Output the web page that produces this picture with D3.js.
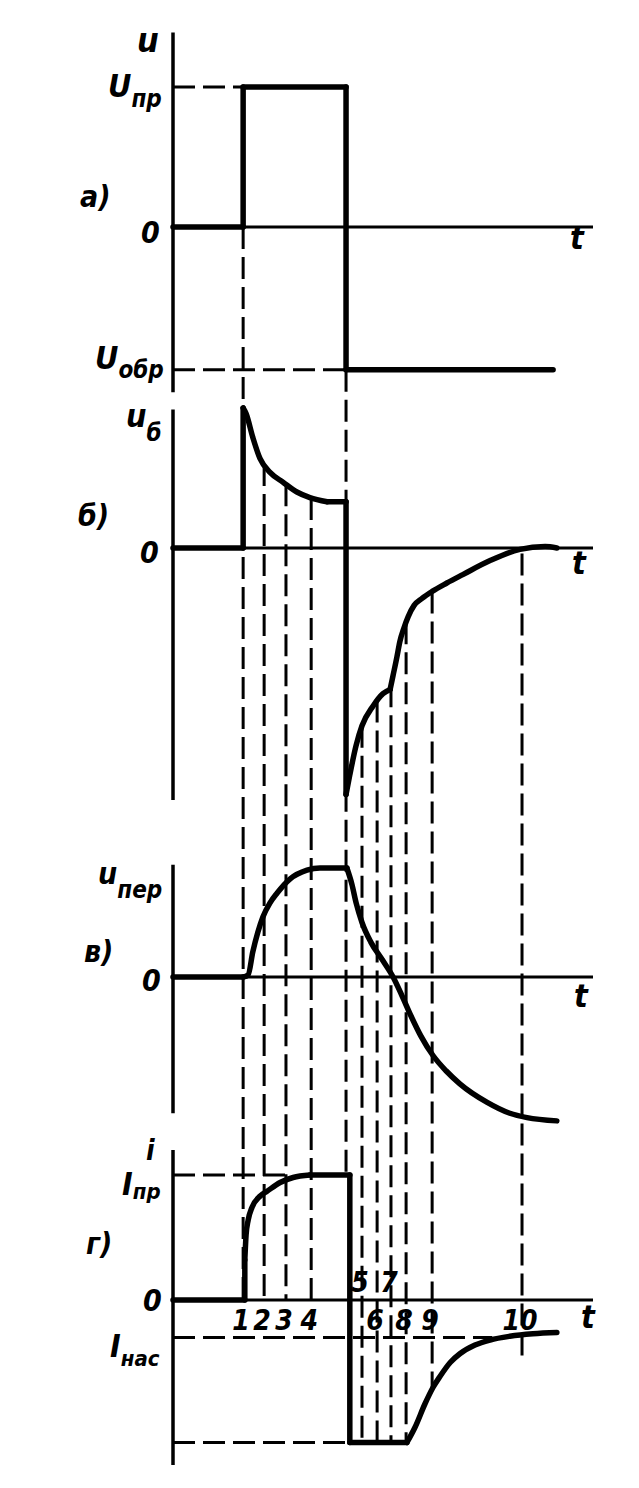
<!DOCTYPE html>
<html><head><meta charset="utf-8">
<script src="https://cdn.jsdelivr.net/npm/d3@7"></script>
<style>
html,body{margin:0;padding:0;background:#fff;}
svg text{font-family:"DejaVu Sans Condensed","DejaVu Sans",sans-serif;font-style:italic;font-weight:bold;fill:#000;}
</style></head>
<body><svg id="c" width="639" height="1488"></svg>
<script>
// ---- data (time in arbitrary units 0..100, values in units of each panel's reference level) ----
const tMarks      = [16.7, 21.7, 26.9, 32.9, 45.0, 48.6, 51.9, 55.5, 61.7, 83.1];
const tMarkLabels = ["1","2","3","4","5","6","7","8","9","10"];
const tFall = 41.2;
const tEnd = 100;

// a) applied voltage u
const uT = [0, 16.7, 16.7, 41.2, 41.2, 90.5];
const uV = [0, 0, 1, 1, -1.02, -1.02];

// б) base voltage u_б
const ubT = [0, 16.7, 16.7, 17.4, 19.0, 20.7, 23.1, 26.2, 29.5, 32.6, 36.7, 41.2, 41.2,
             42.1, 43.6, 45.0, 47.6, 50.0, 51.7, 52.4, 53.3, 54.0, 55.0, 56.0, 57.4, 59.3,
             61.7, 65.2, 69.0, 75.5, 82.6, 88.6, 91.4];
const ubV = [0, 0, 1.0, 0.96, 0.79, 0.64, 0.54, 0.47, 0.40, 0.36, 0.33, 0.33, -1.76,
             -1.62, -1.41, -1.27, -1.13, -1.04, -1.01, -0.91, -0.78, -0.67, -0.57, -0.49, -0.41, -0.36,
             -0.31, -0.25, -0.19, -0.09, -0.01, 0.01, 0.0];
const ubCorners = [36.7, 51.7];

// в) junction voltage u_пер
const upT = [0, 16.7, 17.9, 19.0, 20.2, 21.4, 23.1, 24.8, 27.9, 31.9, 35.0, 41.4, 42.6, 43.6,
             45.0, 47.1, 49.8, 52.4, 54.5, 56.7, 59.0, 61.9, 65.0, 68.3, 74.8, 80.2, 84.3, 91.4];
const upV = [0, 0, 0.02, 0.23, 0.41, 0.55, 0.68, 0.77, 0.90, 0.98, 1.0, 1.0, 0.85, 0.68,
             0.50, 0.32, 0.16, 0.0, -0.17, -0.36, -0.54, -0.72, -0.86, -0.98, -1.15, -1.25, -1.29, -1.32];
const upCorners = [16.7, 41.4];

// г) current i
const iT = [0, 17.1, 17.1, 17.4, 17.9, 18.8, 20.7, 22.4, 25.5, 28.6, 32.6, 42.1, 42.1,
            55.7, 57.6, 60.0, 61.9, 63.6, 66.0, 68.3, 71.9, 75.5, 80.2, 85.7, 91.4];
const iV = [0, 0, 0.32, 0.52, 0.64, 0.74, 0.83, 0.87, 0.94, 0.98, 1.0, 1.0, -1.14,
            -1.14, -1.02, -0.83, -0.70, -0.61, -0.50, -0.43, -0.36, -0.32, -0.29, -0.27, -0.26];
const iCorners = [32.6, 55.7];
const iSat = -0.30;      // I_нас level
const iBottom = -1.14;   // reverse current plateau

// vertical extents of each panel's ordinate axis
const axisA = [-1.18, 1.39];
const axisB = [-1.80, 0.99];
const axisC = [-1.25, 1.03];
const axisD = [-1.32, 1.20];

// guide lines: [panel, value] at top and bottom of each time marker
const markTop    = [["a",0],["b",0.60],["b",0.455],["b",0.358],["b",-1.27],["b",-1.09],["b",-0.98],["b",-0.53],["b",-0.31],["b",-0.04]];
const markBottom = [["d",0],["d",0],["d",0],["d",0],["d",-1.14],["d",-1.14],["d",-1.14],["d",-1.14],["d",-0.70],["d",-0.46]];
const markAbove  = ["5","7"];   // labels placed above the axis

// ---- drawing ----
const svg = d3.select("#c");
const x = d3.scaleLinear().domain([0, 100]).range([173, 593]);
const y = {
  a: d3.scaleLinear().domain([0, 1]).range([227, 87]),
  b: d3.scaleLinear().domain([0, 1]).range([548, 408]),
  c: d3.scaleLinear().domain([0, 1]).range([977, 868]),
  d: d3.scaleLinear().domain([0, 1]).range([1300, 1175])
};
const DASH = "22,8";

// dashed guides (drawn first, under curves)
const g = svg.append("g").attr("stroke","#000").attr("fill","none");
tMarks.forEach((t,i)=>{
  g.append("line").attr("x1",x(t)).attr("x2",x(t))
   .attr("y1",y[markTop[i][0]](markTop[i][1])).attr("y2",y[markBottom[i][0]](markBottom[i][1]))
   .attr("stroke-width",3).attr("stroke-dasharray",DASH);
});
g.append("line").attr("x1",x(tFall)).attr("x2",x(tFall))
 .attr("y1",y.a(-1.02)).attr("y2",y.d(1)).attr("stroke-width",3).attr("stroke-dasharray",DASH);

function hdash(panel, v, t0, t1){
  g.append("line").attr("x1",x(t0)).attr("x2",x(t1)).attr("y1",y[panel](v)).attr("y2",y[panel](v))
   .attr("stroke-width",3).attr("stroke-dasharray",DASH);
}
hdash("a", 1, 0, 16.7);
hdash("a", -1.02, 0, tFall);
hdash("d", 1, 0, 28);
hdash("d", iSat, 0, 76);
hdash("d", iBottom, 0, tFall);

// axes
const ax = svg.append("g").attr("stroke","#000").attr("fill","none");
[["a",axisA],["b",axisB],["c",axisC],["d",axisD]].forEach(([p,ext])=>{
  ax.append("line").attr("x1",x(0)).attr("x2",x(0)).attr("y1",y[p](ext[1])).attr("y2",y[p](ext[0])).attr("stroke-width",3.5);
  ax.append("line").attr("x1",x(0)).attr("x2",x(tEnd)).attr("y1",y[p](0)).attr("y2",y[p](0)).attr("stroke-width",3);
});

// curves: split into smooth pieces at vertical jumps and corners
const curves = svg.append("g").attr("stroke","#000").attr("fill","none")
  .attr("stroke-width",5.5).attr("stroke-linejoin","round").attr("stroke-linecap","round");
function drawSeries(p, T, V, corners){
  const pts = T.map((t,i)=>[t,V[i]]);
  let seg = [pts[0]];
  const pieces = [];
  for(let i=1;i<pts.length;i++){
    if(pts[i][0] === pts[i-1][0]){           // vertical jump
      if(seg.length>1) pieces.push(seg);
      pieces.push([pts[i-1], pts[i]]);
      seg = [pts[i]];
    } else {
      seg.push(pts[i]);
      if(corners.includes(pts[i][0]) && i < pts.length-1 && pts[i+1][0] !== pts[i][0]){
        pieces.push(seg); seg = [pts[i]];
      }
    }
  }
  if(seg.length>1) pieces.push(seg);
  pieces.forEach(pc=>{
    const line = d3.line().x(d=>x(d[0])).y(d=>y[p](d[1]))
      .curve(pc.length>2 ? d3.curveMonotoneX : d3.curveLinear);
    curves.append("path").attr("d", line(pc));
  });
}
drawSeries("a", uT, uV, []);
drawSeries("b", ubT, ubV, ubCorners);
drawSeries("c", upT, upV, upCorners);
drawSeries("d", iT, iV, iCorners);

// text
function label(xp, yp, main, sub, size, subSize, dy){
  const t = svg.append("text").attr("x",xp).attr("y",yp).attr("font-size",size);
  t.append("tspan").text(main);
  if(sub) t.append("tspan").attr("font-size",subSize).attr("dy",dy).text(sub);
  return t;
}
// panel a
label(137, 52, "u", null, 34);
label(108, 97, "U", "пр", 32, 24, 10);
label(80, 207, "а)", null, 30);
label(141, 243, "0", null, 30);
label(95, 369, "U", "обр", 32, 24, 9);
// panel б
label(126, 427, "u", "б", 32, 24, 14);
label(78, 526, "б)", null, 30);
label(140, 563, "0", null, 30);
// panel в
label(98, 884, "u", "пер", 30, 24, 14);
label(84, 962, "в)", null, 30);
label(142, 991, "0", null, 30);
// panel г
label(146, 1160, "i", null, 28);
label(122, 1195, "I", "пр", 32, 22, 4);
label(86, 1254, "г)", null, 30);
label(143, 1311, "0", null, 30);
label(110, 1357, "I", "нас", 32, 22, 9);
// time labels
[227, 548, 977, 1300].forEach((yy,i)=>{
  const xs = [570, 572, 574, 581][i];
  svg.append("text").attr("x",xs).attr("y",yy+([22,26,30,28][i])).attr("font-size",32).text("t");
});
tMarks.forEach((t,i)=>{
  const above = markAbove.includes(tMarkLabels[i]);
  svg.append("text").attr("x",x(t)-2).attr("y", above ? y.d(0)-8 : y.d(0)+30)
     .attr("text-anchor","middle").attr("font-size",28).text(tMarkLabels[i]);
});
</script></body></html>
